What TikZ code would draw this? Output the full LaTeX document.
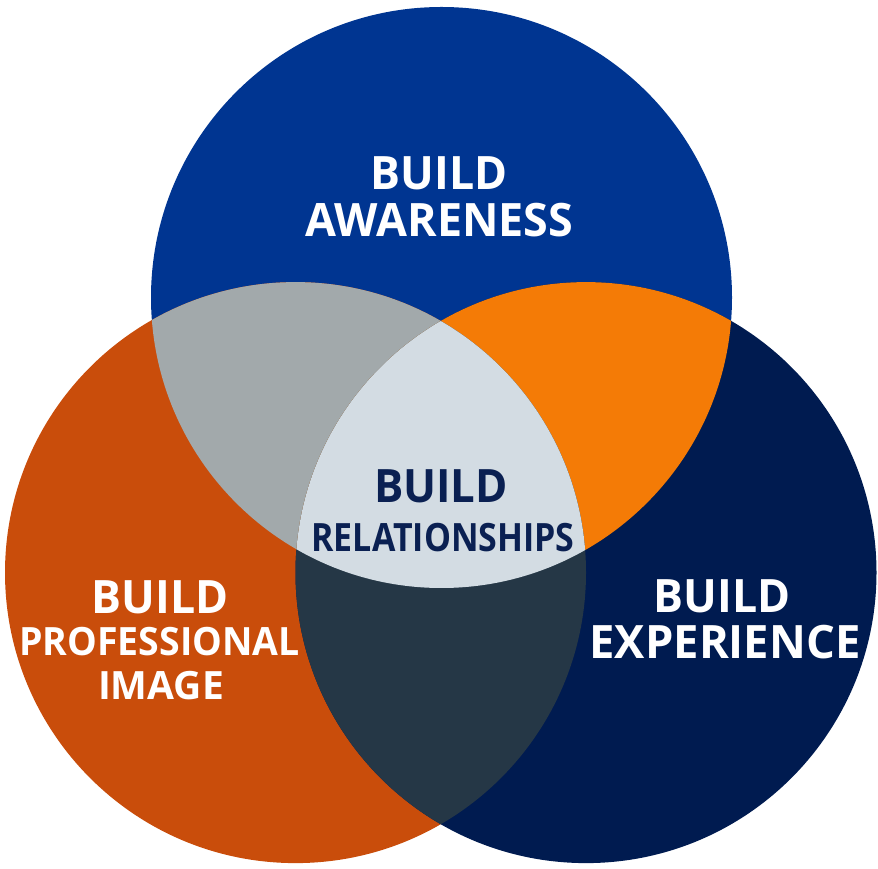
\documentclass[tikz,border=0pt]{standalone}
\usepackage{fontspec}
\setmainfont{Open Sans}
\definecolor{cTop}{RGB}{0,53,145}
\definecolor{cLeft}{RGB}{201,77,11}
\definecolor{cRight}{RGB}{0,27,80}
\definecolor{cTL}{RGB}{162,169,171}
\definecolor{cTR}{RGB}{244,123,6}
\definecolor{cLR}{RGB}{37,55,70}
\definecolor{cAll}{RGB}{211,220,227}
\definecolor{cDark}{RGB}{10,32,82}
\newcommand{\sx}[2]{\scalebox{#1}[1]{#2}}
\begin{document}
\begin{tikzpicture}[x=1pt,y=1pt,
  big/.style={font=\bfseries\fontsize{46}{46}\selectfont, anchor=base, inner sep=0pt},
  small/.style={font=\bfseries\fontsize{39}{39}\selectfont, anchor=base, inner sep=0pt}]
\useasboundingbox (0,0) rectangle (878,868);
\def\R{290.5}
\def\topC{(441.5,570.5) circle (\R)}
\def\leftC{(295.5,295.4) circle (\R)}
\def\rightC{(586,295.4) circle (\R)}
\fill[cTop] \topC;
\fill[cLeft] \leftC;
\fill[cRight] \rightC;
\begin{scope}\clip \topC; \fill[cTL] \leftC; \end{scope}
\begin{scope}\clip \topC; \fill[cTR] \rightC; \end{scope}
\begin{scope}\clip \leftC; \fill[cLR] \rightC; \end{scope}
\begin{scope}\clip \topC; \clip \leftC; \fill[cAll] \rightC; \end{scope}
% texts
\node[big, white] (t1) at (439,678) {\sx{0.97}{BUILD}};
\node[big, white] (t2) at (439.5,631) {\sx{0.975}{AWARENESS}};
\node[big, white] (l1) at (160,254) {\sx{0.97}{BUILD}};
\node[small, white] (l2) at (159.5,212) {\sx{0.96}{PROFESSIONAL}};
\node[small, white] (l3) at (161,169) {IMAGE};
\node[big, white] (r1) at (722,255) {\sx{0.97}{BUILD}};
\node[big, white] (r2) at (725,210) {\sx{0.985}{EXPERIENCE}};
\node[big, cDark] (c1) at (441,365) {\sx{0.95}{BUILD}};
\node[small, cDark] (c2) at (443,316) {\sx{0.87}{RELATIONSHIPS}};
\end{tikzpicture}
\end{document}
